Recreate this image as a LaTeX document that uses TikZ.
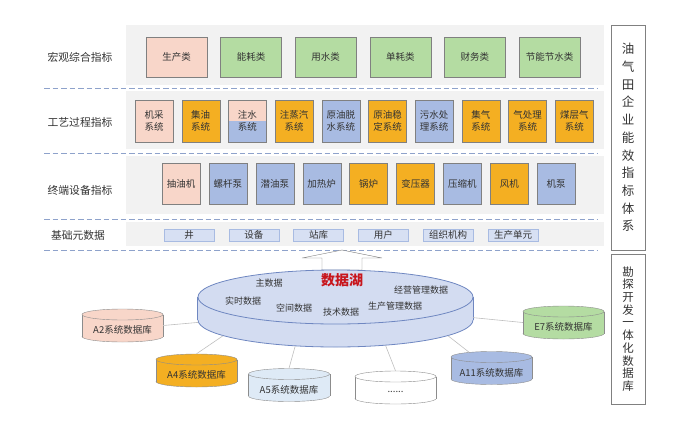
\documentclass[tikz,border=0pt]{standalone}
\usepackage{fontspec}
\setmainfont{Noto Sans CJK SC}
\usepackage{tikz}
\usetikzlibrary{positioning,shapes.geometric}
\usepackage{xcolor}
\definecolor{IdxPink}{HTML}{F8D6C9}
\definecolor{IdxGreen}{HTML}{B4DCA2}
\definecolor{IdxOrange}{HTML}{F4AF22}
\definecolor{IdxBlue}{HTML}{A8BBE2}
\definecolor{IdxPale}{HTML}{D7E0F3}
\definecolor{IdxPanel}{HTML}{F2F2F2}
\definecolor{IdxDash}{HTML}{8EA2CB}
\definecolor{IdxEdge}{HTML}{808080}
\definecolor{LakeFill}{HTML}{D3DCF1}
\definecolor{LakeEdge}{HTML}{6F87C1}
\definecolor{LakeRed}{HTML}{C8161D}
\definecolor{DbSky}{HTML}{DEEAF6}

\begin{document}
\begin{tikzpicture}[x=1pt,y=-1pt,every node/.style={font=\fontsize{9.5}{12}\selectfont,align=center,inner sep=0pt,text=black!80},
    idx/.style={draw=IdxEdge,minimum width=61pt,minimum height=40pt},
    sys/.style={draw=IdxEdge,minimum width=38pt,minimum height=42pt},
    dev/.style={draw=IdxEdge,minimum width=38pt,minimum height=41pt},
    meta/.style={draw=IdxBlue,fill=IdxPale,minimum width=50pt,minimum height=12pt},
    tier/.style={font=\fontsize{10.8}{13}\selectfont},
    sep/.style={IdxDash,dash pattern=on 5.5pt off 3pt,line width=0.9pt},
    lakeend/.style={ellipse,draw=LakeEdge,fill=LakeFill,line width=0.8pt,minimum width=275pt,minimum height=54pt},
    lakeword/.style={font=\fontsize{9}{11}\selectfont},
    dbend/.style={ellipse,draw=black!45,minimum width=81pt,minimum height=11pt},
    dbbox/.style={minimum width=81pt,minimum height=33pt},
    link/.style={draw=black!25,line width=0.6pt}]
    \useasboundingbox (0,0) rectangle (700,444);
    % panels and separators
    \foreach \t/\b in {25/85,91/149,156/214,222/246}{\fill[IdxPanel] (126,\t) rectangle (604,\b);}
    \foreach \y in {88,153,219,250}{\draw[sep] (44,\y) -- (598,\y);}
    % tier labels
    \node[tier] (tmacro) at (80,57) {宏观综合指标};
    \node[tier] (tproc) at (80,122) {工艺过程指标};
    \node[tier] (tdev) at (80,190) {终端设备指标};
    \node[tier] (tmeta) at (78,235) {基础元数据};
    % macro indicators
    \node[idx,fill=IdxPink] (prod) at (176.5,57) {生产类};
    \node[idx,fill=IdxGreen,right=13.2pt of prod] (energy) {能耗类};
    \node[idx,fill=IdxGreen,right=13.2pt of energy] (water) {用水类};
    \node[idx,fill=IdxGreen,right=13.2pt of water] (unitcons) {单耗类};
    \node[idx,fill=IdxGreen,right=13.2pt of unitcons] (finance) {财务类};
    \node[idx,fill=IdxGreen,right=13.2pt of finance] (saving) {节能节水类};
    % process systems
    \node[sys,fill=IdxPink] (lift) at (154,121) {机采\\系统};
    \node[sys,fill=IdxOrange,right=8.3pt of lift] (gather) {集油\\系统};
    \node[sys,fill=IdxPink,right=8.3pt of gather,path picture={\fill[IdxBlue] (path picture bounding box.west) rectangle (path picture bounding box.south east);}] (inject) {注水\\系统};
    \node[sys,fill=IdxOrange,right=8.3pt of inject] (steam) {注蒸汽\\系统};
    \node[sys,fill=IdxBlue,right=8.3pt of steam] (dehyd) {原油脱\\水系统};
    \node[sys,fill=IdxOrange,right=8.3pt of dehyd] (stab) {原油稳\\定系统};
    \node[sys,fill=IdxBlue,right=8.3pt of stab] (sewage) {污水处\\理系统};
    \node[sys,fill=IdxOrange,right=8.3pt of sewage] (gasgather) {集气\\系统};
    \node[sys,fill=IdxOrange,right=8.3pt of gasgather] (gastreat) {气处理\\系统};
    \node[sys,fill=IdxOrange,right=8.3pt of gastreat] (cbm) {煤层气\\系统};
    % terminal devices
    \node[dev,fill=IdxPink] (pumpjack) at (181,183.5) {抽油机};
    \node[dev,fill=IdxBlue,right=8.5pt of pumpjack] (screw) {螺杆泵};
    \node[dev,fill=IdxBlue,right=8.5pt of screw] (esp) {潜油泵};
    \node[dev,fill=IdxBlue,right=8.5pt of esp] (heater) {加热炉};
    \node[dev,fill=IdxOrange,right=8.5pt of heater] (boiler) {锅炉};
    \node[dev,fill=IdxOrange,right=8.5pt of boiler] (trafo) {变压器};
    \node[dev,fill=IdxBlue,right=8.5pt of trafo] (compr) {压缩机};
    \node[dev,fill=IdxOrange,right=8.5pt of compr] (fan) {风机};
    \node[dev,fill=IdxBlue,right=8.5pt of fan] (pump) {机泵};
    % base metadata
    \node[meta] (well) at (189,235) {井};
    \node[meta,right=14.4pt of well] (equip) {设备};
    \node[meta,right=14.4pt of equip] (station) {站库};
    \node[meta,right=14.4pt of station] (user) {用户};
    \node[meta,right=14.4pt of user] (org) {组织机构};
    \node[meta,right=14.4pt of org] (produnit) {生产单元};
    % side boxes
    \node[draw=IdxEdge,fill=white,minimum width=34pt,minimum height=225pt,font=\fontsize{12.5}{17.7}\selectfont] (evalsys) at (628,137.5) {油\\气\\田\\企\\业\\能\\效\\指\\标\\体\\系};
    \node[draw=IdxEdge,fill=white,minimum width=34pt,minimum height=150pt,font=\fontsize{11.5}{12.7}\selectfont] (intdb) at (628,329) {勘\\探\\开\\发\\一\\体\\化\\数\\据\\库};
    % data lake
    \coordinate (tip) at (342,250);
    \draw[IdxEdge,fill=white] (tip) -- ++(40,8) -- ++(-20,0) -- ++(0,12) -- ++(-40,0) -- ++(0,-12) -- ++(-20,0) -- cycle;
    \node[lakeend] (lakebase) at (335.5,320) {};
    \fill[LakeFill] (198,297) rectangle (473,320);
    \draw[LakeEdge,line width=0.8pt] (lakebase.west) -- ++(0,-23) (lakebase.east) -- ++(0,-23);
    \node[lakeend] (lake) at (335.5,297) {};
    \node[font=\fontsize{14}{16}\selectfont\bfseries,text=LakeRed] (lakename) at (342,280) {数据湖};
    \node[lakeword] (master) at (269,283) {主数据};
    \node[lakeword] (realtime) at (243,301) {实时数据};
    \node[lakeword] (spatial) at (294,308) {空间数据};
    \node[lakeword] (tech) at (341,312) {技术数据};
    \node[lakeword] (prodmgmt) at (395,306) {生产管理数据};
    \node[lakeword] (bizmgmt) at (421,290) {经营管理数据};
    % source databases
    \foreach \n/\x/\y/\c/\t in {a2/122.5/325.5/IdxPink/A2系统数据库,a4/196.5/370.5/IdxOrange/A4系统数据库,a5/289/385/DbSky/A5系统数据库,more/395.5/387.5/white/.{}.{}.{}.{}.{}.,a11/491.5/368/IdxBlue/A11系统数据库,e7/563.5/322.5/IdxGreen/E7系统数据库}{
      \node[dbend,fill=\c] (\n-bot) at (\x,\y+11) {};
      \fill[\c] (\x-40.5,\y-11) rectangle (\x+40.5,\y+11);
      \draw[black!45] (\n-bot.west) -- ++(0,-22) (\n-bot.east) -- ++(0,-22);
      \node[dbend,fill=\c] (\n-top) at (\x,\y-11) {};
      \node[dbbox] (\n) at (\x,\y) {};
      \node (\n-lbl) at (\x,\y+4.5) {\t};
    }
    \foreach \x/\y in {a2.east/lakebase.181,a4.north/lakebase.188,a5.north/lakebase.213,more.north/lakebase.333,a11-top.168/lakebase.352,e7.west/lakebase.1}{\draw[link] (\x)--(\y);}
  \end{tikzpicture}
\end{document}
